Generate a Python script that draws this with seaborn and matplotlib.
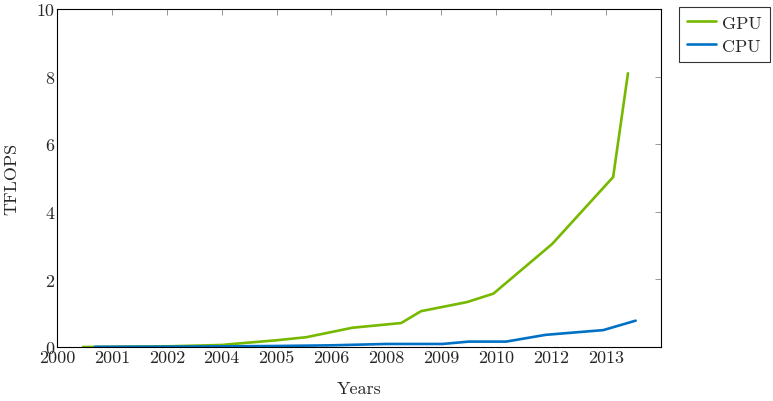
import seaborn as sns
import matplotlib.pyplot as plt
import pandas as pd

# tick positions (evenly spaced) and their year labels
tick_pos = list(range(11))
tick_labels = ['2000', '2001', '2002', '2004', '2005', '2006',
               '2008', '2009', '2010', '2012', '2013']

gpu_x = [0.47, 2.0, 3.0, 3.2, 4.0, 4.54, 5.38, 6.27, 6.63, 7.47, 7.95, 9.02, 10.13, 10.4]
gpu_y = [0.0, 0.02, 0.06, 0.09, 0.2, 0.29, 0.57, 0.71, 1.06, 1.33, 1.58, 3.05, 5.03, 8.1]

cpu_x = [0.69, 2.0, 3.0, 4.0, 5.0, 6.0, 7.02, 7.5, 8.18, 8.9, 9.95, 10.54]
cpu_y = [0.005, 0.01, 0.02, 0.03, 0.05, 0.09, 0.09, 0.16, 0.16, 0.36, 0.5, 0.78]

df = pd.concat([
    pd.DataFrame({'x': gpu_x, 'TFLOPS': gpu_y, 'series': 'GPU'}),
    pd.DataFrame({'x': cpu_x, 'TFLOPS': cpu_y, 'series': 'CPU'}),
])

sns.set_style('white')
plt.rcParams['font.family'] = ['cmr10', 'DejaVu Serif']
plt.rcParams['axes.formatter.use_mathtext'] = True

fig = plt.figure(figsize=(7.73, 4.02), dpi=100)
ax = fig.add_axes([0.0737, 0.1343, 0.855 - 0.0737, 0.975 - 0.1343])

sns.lineplot(data=df, x='x', y='TFLOPS', hue='series',
             palette={'GPU': '#76b900', 'CPU': '#0071c5'},
             estimator=None, sort=False, linewidth=1.9, ax=ax)

fs = 13
ax.set_xlim(0, 11)
ax.set_ylim(0, 10)
ax.set_xticks(tick_pos)
ax.set_xticklabels(tick_labels)
ax.set_yticks([0, 2, 4, 6, 8, 10])
ax.set_yticklabels(['0', '2', '4', '6', '8', '10'])
ax.tick_params(direction='in', length=4, width=0.6, color='#888888',
               labelsize=fs, top=True, right=True, pad=2)
for s in ax.spines.values():
    s.set_color('black')
    s.set_linewidth(0.8)
ax.set_xlabel('Years', fontsize=fs, labelpad=11)
ax.set_ylabel('TFLOPS', fontsize=fs, labelpad=12)

leg = ax.legend(loc='upper left', bbox_to_anchor=(1.03, 1.006), frameon=True,
                fontsize=fs, handlelength=1.6, borderpad=0.45,
                labelspacing=0.4, handletextpad=0.35, borderaxespad=0,
                fancybox=False)
leg.get_frame().set_edgecolor('black')
leg.get_frame().set_linewidth(0.8)

fig.savefig('out.png', dpi=100)
